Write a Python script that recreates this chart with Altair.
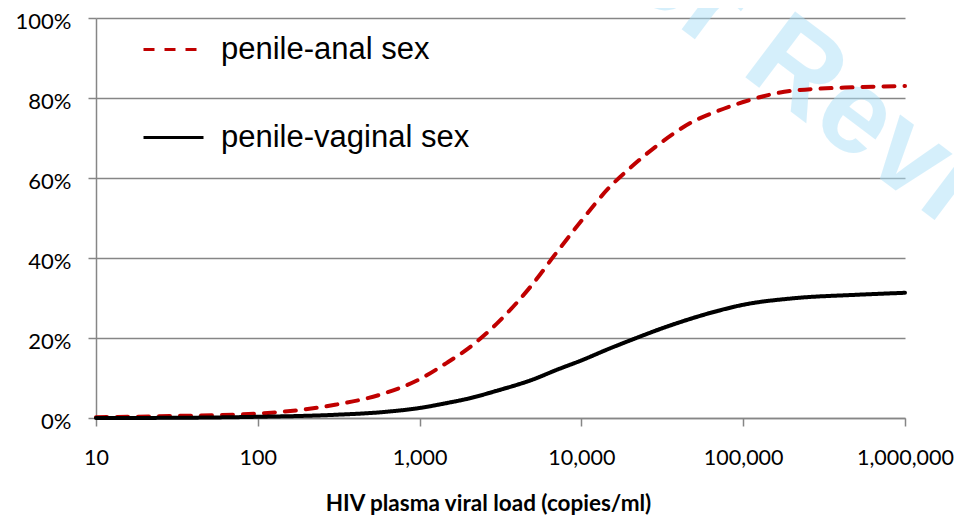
import altair as alt
import pandas as pd

viral_load = [10, 30, 100, 300, 600, 1000, 1500, 2000, 3000, 5000, 7000,
              10000, 15000, 20000, 30000, 50000, 70000, 100000, 200000,
              500000, 1000000]
penile_anal = [0.2, 0.5, 1.1, 3.3, 6.1, 9.7, 14.0, 17.4, 23.6, 33.5, 41.3,
               49.3, 57.8, 62.5, 68.4, 74.3, 76.8, 79.0, 81.8, 82.7, 83.0]
penile_vaginal = [0.0, 0.05, 0.3, 0.8, 1.5, 2.5, 3.8, 4.85, 6.8, 9.6, 12.0,
                  14.4, 17.4, 19.4, 22.1, 25.1, 26.8, 28.3, 29.9, 30.8, 31.3]
series_names = ["penile-anal sex", "penile-vaginal sex"]
x_ticks = [10, 100, 1000, 10000, 100000, 1000000]
y_ticks = [0, 0.2, 0.4, 0.6, 0.8, 1.0]

rows = []
for name, vals in zip(series_names, [penile_anal, penile_vaginal]):
    for x, v in zip(viral_load, vals):
        rows.append({"load": x, "risk": v / 100.0, "sex": name})
df = pd.DataFrame(rows)

legend = alt.Legend(
    title=None, orient="none", legendX=46, legendY=0, padding=0,
    symbolType="stroke", symbolSize=3600, symbolStrokeWidth=3,
    rowPadding=41, labelOffset=16, labelFont="Liberation Sans",
    labelFontSize=31, labelColor="#000000", labelLimit=400,
)

lines = alt.Chart(df).mark_line(
    strokeWidth=4, interpolate="monotone", strokeCap="round"
).encode(
    x=alt.X("load:Q",
            scale=alt.Scale(type="log", domain=[10, 1000000]),
            axis=alt.Axis(values=x_ticks, format=",", grid=False,
                          title="HIV plasma viral load (copies/ml)",
                          titleFont="Lato", titleFontWeight="bold",
                          titleFontSize=22.5, titleColor="#000000",
                          titlePadding=24, titleX=392,
                          labelFont="Lato", labelFontSize=21.5,
                          labelColor="#000000", labelPadding=21,
                          tickSize=8, tickColor="#868686", tickWidth=1.5,
                          domainColor="#868686", domainWidth=1.5,
                          labelFlush=False)),
    y=alt.Y("risk:Q",
            scale=alt.Scale(domain=[0, 1]),
            axis=alt.Axis(values=y_ticks, format=".0%", title=None,
                          labelFont="Lato", labelFontSize=22,
                          labelColor="#000000", labelPadding=17,
                          labelOffset=3,
                          tickSize=8, tickColor="#868686", tickWidth=1.5,
                          domainColor="#868686", domainWidth=1.5,
                          gridColor="#868686", gridWidth=1.5)),
    color=alt.Color("sex:N",
                    scale=alt.Scale(domain=series_names,
                                    range=["#C00000", "#000000"]),
                    legend=legend),
    strokeDash=alt.StrokeDash("sex:N",
                              scale=alt.Scale(domain=series_names,
                                              range=[[11, 10], [1, 0]]),
                              legend=legend),
)

watermark = alt.Chart(pd.DataFrame({"t": ["For Review Only"]})).mark_text(
    font="Liberation Sans", fontWeight="bold", fontSize=120, angle=37,
    align="left", baseline="alphabetic", color="#ADE1F9", opacity=0.5,
).encode(
    x=alt.value(462), y=alt.value(-82), text="t:N"
)

chart = alt.layer(watermark, lines).properties(
    width=809, height=400,
    autosize=alt.AutoSizeParams(type="none"),
    padding={"left": 88, "top": 10, "right": 49, "bottom": 98},
).configure_view(stroke=None)

chart.save("out.html", embed_options={"renderer": "svg", "actions": False})
